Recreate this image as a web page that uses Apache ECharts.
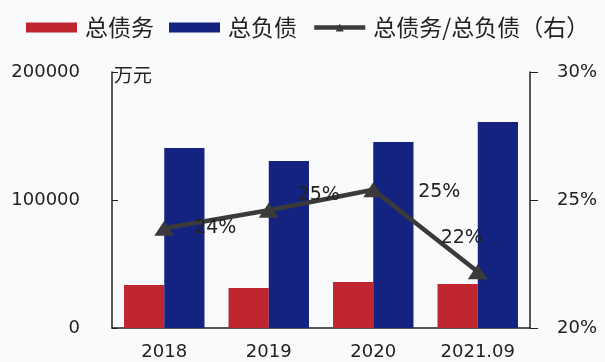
<!DOCTYPE html>
<html>
<head>
<meta charset="utf-8">
<script src="https://cdn.jsdelivr.net/npm/echarts@6/dist/echarts.min.js"></script>
<style>
  html, body { margin: 0; padding: 0; background: #f9fafc; }
  #chart { width: 605px; height: 362px; }
</style>
</head>
<body>
<div id="chart"></div>
<script>
// Debt vs. liabilities (万元) with the debt ratio on the right axis
const categories = ['2018', '2019', '2020', '2021.09'];
const totalDebt = [33600, 31300, 36000, 34400];
const totalLiabilities = [140600, 130500, 145300, 161000];
const debtRatio = [0.239, 0.246, 0.254, 0.222];
const leftTicks = [0, 100000, 200000];
const rightTicks = [0.20, 0.25, 0.30];

// label placement per point of the ratio line
const ratioLabelOffsets = [[51, 0], [50, -15], [66, 2], [-16, -34]];

const font = 'DejaVu Sans';
const cjk = '"Noto Sans CJK SC", sans-serif';

const chart = echarts.init(document.getElementById('chart'), null, { renderer: 'canvas' });
chart.setOption({
  backgroundColor: '#f9fafc',
  animation: false,
  legend: {
    top: 16,
    left: 26,
    width: 579,
    padding: 0,
    itemWidth: 51,
    itemHeight: 10,
    itemGap: 15,
    textStyle: { fontFamily: cjk, fontSize: 23, color: '#222', padding: [0, 0, 0, 3] },
    data: [
      { name: '总债务', icon: 'rect' },
      { name: '总负债', icon: 'rect' },
      { name: '总债务/总负债（右）', lineStyle: { width: 4.5 } }
    ]
  },
  grid: { left: 112, right: 75, top: 72, bottom: 34 },
  xAxis: {
    type: 'category',
    data: categories,
    axisLine: { lineStyle: { color: '#222', width: 1.5 } },
    axisTick: { show: false },
    axisLabel: { fontFamily: font, fontSize: 18, color: '#222', margin: 15 }
  },
  yAxis: [
    {
      type: 'value',
      min: leftTicks[0],
      max: leftTicks[2],
      interval: leftTicks[1] - leftTicks[0],
      name: '万元',
      nameLocation: 'end',
      nameGap: -12,
      nameTextStyle: { fontFamily: cjk, fontSize: 19, color: '#222', align: 'left', padding: [0, 0, 0, 2] },
      axisLine: { show: true, lineStyle: { color: '#222', width: 1.5 } },
      axisTick: { show: true, inside: true, length: 6, lineStyle: { color: '#222' } },
      splitLine: { show: false },
      axisLabel: { fontFamily: font, fontSize: 18, color: '#222', margin: 32, formatter: v => String(v) }
    },
    {
      type: 'value',
      min: rightTicks[0],
      max: rightTicks[2],
      interval: rightTicks[1] - rightTicks[0],
      axisLine: { show: true, lineStyle: { color: '#222', width: 1.5 } },
      axisTick: { show: true, length: 8, lineStyle: { color: '#222' } },
      splitLine: { show: false },
      axisLabel: {
        fontFamily: font, fontSize: 18, color: '#222', margin: 27,
        formatter: v => Math.round(v * 100) + '%'
      }
    }
  ],
  series: [
    {
      name: '总债务',
      type: 'bar',
      data: totalDebt,
      barGap: '0%',
      barCategoryGap: '23%',
      itemStyle: { color: '#c0262f' }
    },
    {
      name: '总负债',
      type: 'bar',
      data: totalLiabilities,
      itemStyle: { color: '#14237f' }
    },
    {
      name: '总债务/总负债（右）',
      type: 'line',
      yAxisIndex: 1,
      data: debtRatio.map((v, i) => ({
        value: v,
        label: { offset: ratioLabelOffsets[i] }
      })),
      symbol: 'triangle',
      symbolSize: [20, 15],
      lineStyle: { color: '#3a3a3a', width: 4.5 },
      itemStyle: { color: '#3a3a3a' },
      label: {
        show: true,
        position: 'inside',
        fontFamily: font,
        fontSize: 19,
        color: '#222',
        formatter: p => Math.round(p.value * 100) + '%'
      },
      z: 5
    }
  ]
});
</script>
</body>
</html>
